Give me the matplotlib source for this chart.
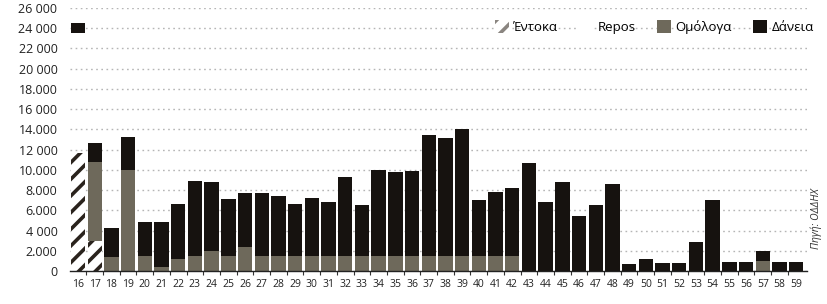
import matplotlib.pyplot as plt
from matplotlib.patches import Patch
from matplotlib.ticker import FixedLocator

plt.rcParams['font.family'] = ['Open Sans', 'DejaVu Sans']
plt.rcParams['hatch.linewidth'] = 2.6

# years of maturity (20xx)
years = list(range(16, 60))
year_labels = [str(y) for y in years]

# totals (mil. euro)
totals = [11700, 12700, 4250, 13200, 4800, 4800, 6650, 8850, 8800, 7100,
          7700, 7700, 7450, 6600, 7250, 6800, 9300, 6500, 10000, 9750,
          9850, 13400, 13100, 14000, 7000, 7850, 8250, 10700, 6800, 8750,
          5450, 6550, 8600, 700, 1200, 800, 800, 2850, 7050, 850,
          850, 2000, 850, 850]

# T-bills (hatched)
entoka = [11700, 3000] + [0] * 42

# bonds
omologa = [0, 7800, 1400, 10000, 1500, 400, 1200, 1500, 2000, 1500,
           2400, 1500, 1500, 1500, 1500, 1500, 1500, 1500, 1500, 1500,
           1500, 1500, 1500, 1500, 1500, 1500, 1500, 0, 0, 0,
           0, 0, 0, 0, 0, 0, 0, 0, 0, 0,
           0, 950, 0, 0]

# loans = the rest of each bar
daneia = [t - e - o for t, e, o in zip(totals, entoka, omologa)]

# small off-scale mark drawn at the top of year 16
off_scale_16 = 24000

ytick_vals = list(range(0, 26001, 2000))
ytick_labels = ['0', '2.000', '4 000', '6.000', '8.000', '10.000', '12 000',
                '14.000', '16 000', '18.000', '20 000', '22 000', '24 000',
                '26 000']

c_hatch = '#2a231d'
c_omol = '#6e695b'
c_dan = '#16120f'

fig = plt.figure(figsize=(8.27, 3.04), dpi=100)
ax = fig.add_axes([70 / 827, 33 / 304, 737 / 827, 263 / 304])

w = 0.86
ax.bar(years, entoka, w, color='white', edgecolor=c_hatch, hatch='//',
       linewidth=0, zorder=2)
ax.bar(years, omologa, w, bottom=entoka, color=c_omol, linewidth=0, zorder=2)
base = [e + o for e, o in zip(entoka, omologa)]
ax.bar(years, daneia, w, bottom=base, color=c_dan, linewidth=0, zorder=2)
ax.bar(years[0], 1000, w, bottom=off_scale_16 - 500, color=c_dan,
       linewidth=0, zorder=2)

ax.set_xlim(15.52, 59.65)
ax.set_ylim(0, 26000)
ax.set_yticks(ytick_vals)
ax.set_yticklabels(ytick_labels, fontsize=9, color='#222222')
ax.set_xticks(years)
ax.set_xticklabels(year_labels, fontsize=7.5, color='#222222')
ax.xaxis.set_minor_locator(FixedLocator([y + 0.5 for y in years[:-1]]))
ax.tick_params(axis='y', length=0, pad=9)
ax.tick_params(axis='x', which='major', length=0, pad=6)
ax.tick_params(axis='x', which='minor', length=3, width=0.8, color='#333333')

for s in ['left', 'right', 'top']:
    ax.spines[s].set_visible(False)
ax.spines['bottom'].set_color('#222222')
ax.spines['bottom'].set_linewidth(1.0)

ax.yaxis.grid(True, linestyle=(0, (1.2, 2.5)), color='#b5b5b5', linewidth=1)
ax.set_axisbelow(True)

handles = [
    Patch(facecolor='white', edgecolor='#8a8580', hatch='//', linewidth=0),
    Patch(facecolor='white', edgecolor='white', linewidth=0),
    Patch(facecolor=c_omol, linewidth=0),
    Patch(facecolor=c_dan, linewidth=0),
]
ax.legend(handles, ['Έντοκα', 'Repos', 'Ομόλογα', 'Δάνεια'], ncol=4,
          frameon=False, loc='upper right', bbox_to_anchor=(1.025, 1.0),
          fontsize=9.5, handlelength=1.1, handleheight=1.1,
          handletextpad=0.3, columnspacing=1.6)

fig.text(0.987, 0.28, 'Πηγή: ΟΔΔΗΧ', rotation=90, fontsize=7.5,
         style='italic', color='#333333', ha='center', va='center')

fig.savefig('out.png', dpi=100)
